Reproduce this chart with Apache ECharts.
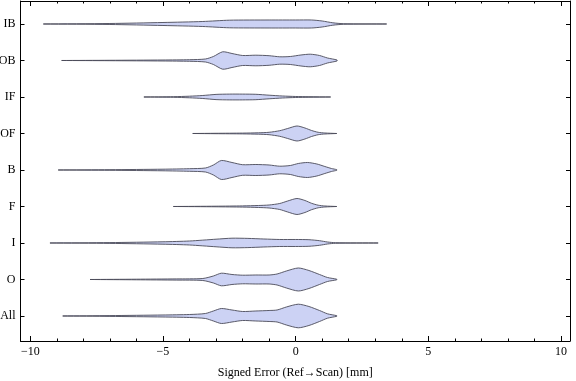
<!DOCTYPE html>
<html>
<head>
<meta charset="utf-8">
<script src="https://cdn.jsdelivr.net/npm/echarts@6/dist/echarts.min.js"></script>
<style>html,body{margin:0;padding:0;background:#fff}#c{width:576px;height:381px}</style>
</head>
<body>
<div id="c"></div>
<script>
// Categories, bottom to top
const categories = ['All', 'O', 'I', 'F', 'B', 'OF', 'IF', 'OB', 'IB'];
const xMajorTicks = [-10, -5, 0, 5, 10];
const xMinorTicks = [-10,-9,-8,-7,-6,-5,-4,-3,-2,-1,0,1,2,3,4,5,6,7,8,9,10];
const xAxisTitle = 'Signed Error (Ref\u2192Scan) [mm]';

// Violin profiles: error value [mm] and half-width (relative density)
const allX = [-8.78,-7,-5,-4,-3.4,-3.1,-2.8,-2.4,-2,-1.5,-1,-0.7,-0.35,0.1,0.5,0.9,1.2,1.55];
const allW = [0,0.4,1,1.5,2.5,5,7.5,6,4.5,5,5.5,6,9,11.8,9.5,5.5,2.2,0.3];
const oX = [-7.75,-6,-4.5,-3.5,-3.1,-2.8,-2.4,-2,-1.5,-1,-0.7,-0.35,0.1,0.5,0.9,1.2,1.55];
const oW = [0,0.3,0.6,1,3.5,6.3,5,4.3,4.5,4.5,5.5,8.5,11.5,9,5,2,0.3];
const iX = [-9.26,-7,-5,-4,-3,-2.4,-1.8,-1.2,-0.6,0,0.5,0.9,1.2,1.5,3.11];
const iW = [0,0.4,1.2,2,3.8,4.8,4.6,4,3.5,3.5,3.3,2.3,1,0.3,0];
const fX = [-4.61,-3,-2,-1.4,-1,-0.6,-0.3,0.05,0.35,0.6,0.85,1.1,1.55];
const fW = [0,0.3,0.6,1,1.5,3,5.5,8,6,3.2,1.3,0.5,0];
const bX = [-8.95,-7,-5,-4,-3.4,-3.1,-2.8,-2.4,-2,-1.5,-1,-0.6,-0.2,0.1,0.45,0.8,1.1,1.35,1.55];
const bW = [0,0.3,0.8,1.3,2,5,9.5,7.5,5.3,5.5,5,3.8,4.5,6.5,7.5,6,3.5,1.5,0.3];
const ofX = [-3.88,-3,-2,-1.4,-1,-0.6,-0.3,0.05,0.35,0.6,0.85,1.1,1.55];
const ofW = [0,0.2,0.4,0.7,1.2,2.8,5,7.5,5.5,3,1.2,0.5,0];
const ifX = [-5.72,-4.6,-4,-3.5,-3,-2.5,-2,-1.5,-1,-0.5,0,0.5,1.32];
const ifW = [0,0.3,0.8,1.5,2.6,2.9,2.9,2.7,1.8,1,0.5,0.3,0];
const obX = [-8.82,-7,-5,-4,-3.4,-3.1,-2.75,-2.4,-2,-1.5,-1,-0.6,-0.2,0.2,0.55,0.9,1.2,1.56];
const obW = [0,0.2,0.5,0.8,1.5,4,8.7,7,5,5.3,4.8,3.7,4,5.5,6.3,5,2.5,0.5];
const ibX = [-9.51,-7,-5,-3.5,-2.5,-1,0,0.6,1,1.4,1.8,3.43];
const ibW = [0,0.5,1.5,2.5,3.8,4,4,4,3,1.2,0.3,0];

const profiles = [
  [allX, allW], [oX, oW], [iX, iW], [fX, fW], [bX, bW],
  [ofX, ofW], [ifX, ifW], [obX, obW], [ibX, ibW]
];
const widthScale = 1 / 36.5; // relative density -> category units

const FONT = 'Liberation Serif';
const tickVals = categories.map((c, i) => i + 1);
const fmtX = v => v < 0 ? '\u2212' + Math.abs(v) : String(v);

const chart = echarts.init(document.getElementById('c'), null, {renderer: 'canvas'});
const XMIN = -10.37, XMAX = 10.34;
const YMIN = 0.315, YMAX = 9.63;
const baseX = {
  type: 'value', min: XMIN, max: XMAX,
  splitLine: {show: false}
};
chart.setOption({
  animation: false,
  grid: {left: 20.5, right: 6, top: 1, bottom: 40, containLabel: false, outerBoundsMode: 'none'},
  xAxis: [
    Object.assign({}, baseX, {
      position: 'bottom',
      axisLine: {show: true, onZero: false, lineStyle: {color: '#000', width: 1}},
      axisTick: {show: true, inside: true, length: 5, customValues: xMajorTicks, lineStyle: {color: '#000'}},
      axisLabel: {show: true, customValues: xMajorTicks, formatter: fmtX, margin: 5,
        fontFamily: FONT, fontSize: 12, color: '#000'},
      name: xAxisTitle, nameLocation: 'middle', nameGap: 26,
      nameTextStyle: {fontFamily: FONT, fontSize: 12, color: '#000'}
    }),
    Object.assign({}, baseX, {
      position: 'bottom',
      axisLine: {show: false, onZero: false},
      axisTick: {show: true, inside: true, length: 2.5, customValues: xMinorTicks, lineStyle: {color: '#000'}},
      axisLabel: {show: false}
    }),
    Object.assign({}, baseX, {
      position: 'top',
      axisLine: {show: true, onZero: false, lineStyle: {color: '#000', width: 1}},
      axisTick: {show: true, inside: true, length: 5, customValues: xMajorTicks, lineStyle: {color: '#000'}},
      axisLabel: {show: false}
    }),
    Object.assign({}, baseX, {
      position: 'top',
      axisLine: {show: false, onZero: false},
      axisTick: {show: true, inside: true, length: 2.5, customValues: xMinorTicks, lineStyle: {color: '#000'}},
      axisLabel: {show: false}
    })
  ],
  yAxis: [
    {
      type: 'value', min: YMIN, max: YMAX, position: 'left',
      splitLine: {show: false},
      axisLine: {show: true, onZero: false, lineStyle: {color: '#000', width: 1}},
      axisTick: {show: true, inside: true, length: 4, customValues: tickVals, lineStyle: {color: '#000'}},
      axisLabel: {show: true, customValues: tickVals, margin: 5,
        formatter: v => categories[Math.round(v) - 1] || '',
        fontFamily: FONT, fontSize: 12, color: '#000'}
    },
    {
      type: 'value', min: YMIN, max: YMAX, position: 'right',
      splitLine: {show: false},
      axisLine: {show: true, onZero: false, lineStyle: {color: '#000', width: 1}},
      axisTick: {show: true, inside: true, length: 4, customValues: tickVals, lineStyle: {color: '#000'}},
      axisLabel: {show: false}
    }
  ],
  series: [{
    type: 'custom',
    xAxisIndex: 0, yAxisIndex: 0,
    clip: true,
    data: categories.map((c, i) => [0, i + 1]),
    renderItem: function (params, api) {
      const idx = params.dataIndex;
      const yc = api.value(1);
      const px = profiles[idx][0], pw = profiles[idx][1];
      const upper = px.map((x, k) => api.coord([x, yc + pw[k] * widthScale]));
      const lower = px.map((x, k) => api.coord([x, yc - pw[k] * widthScale])).reverse();
      return {
        type: 'polygon',
        shape: {points: upper.concat(lower), smooth: 0.25},
        style: {fill: '#ccd2f4', stroke: '#4a4a58', lineWidth: 0.9}
      };
    }
  }]
});
</script>
</body>
</html>
